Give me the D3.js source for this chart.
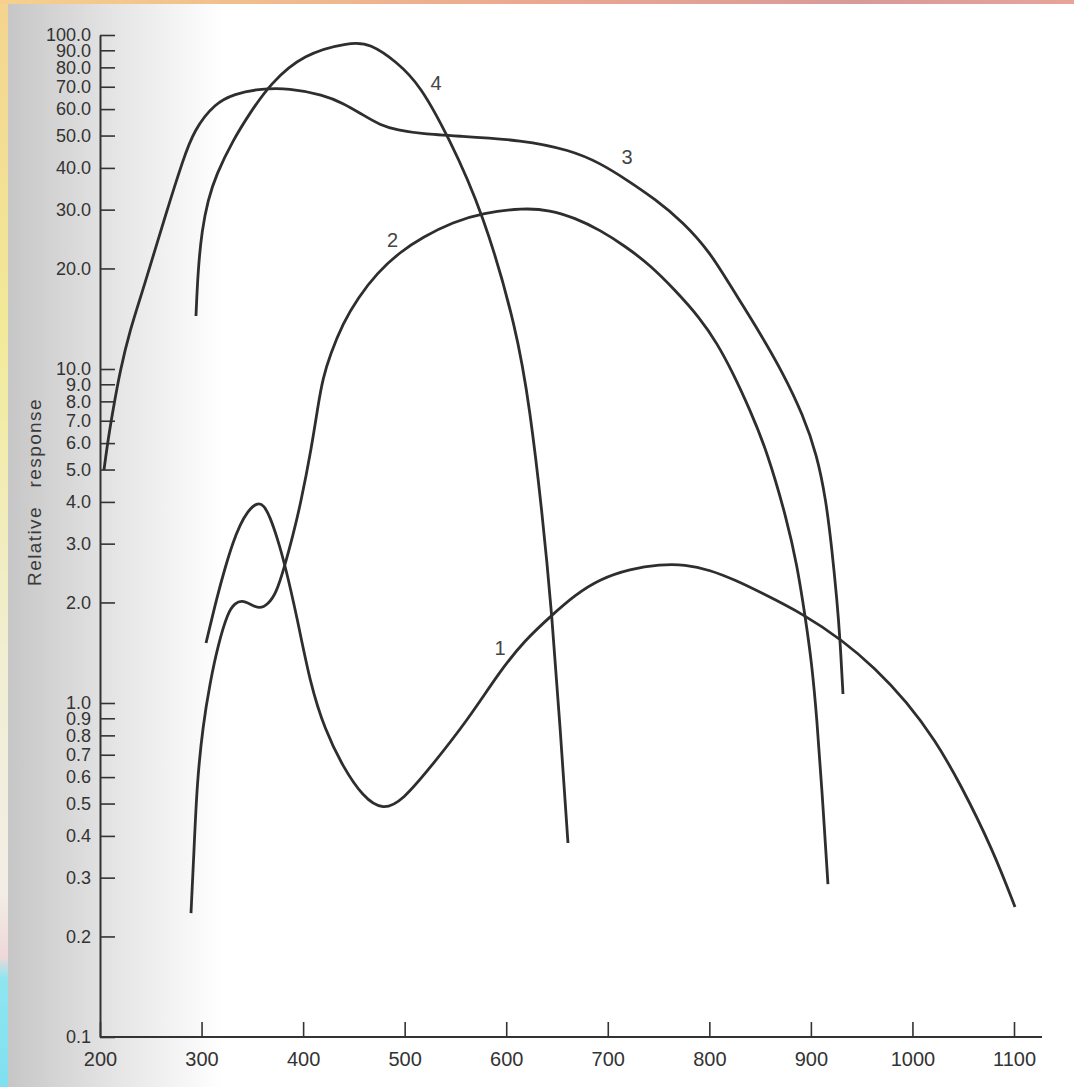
<!DOCTYPE html>
<html>
<head>
<meta charset="utf-8">
<title>Relative response</title>
<style>
  html, body { margin: 0; padding: 0; background: #fff; }
  svg { display: block; }
  .tick text { font-family: "Liberation Sans", Arial, sans-serif; fill: #333; }
</style>
</head>
<body>
<script src="https://cdn.jsdelivr.net/npm/d3@7"></script>
<script>
// tick values
var xTicks = [200, 300, 400, 500, 600, 700, 800, 900, 1000, 1100];
var yTicks = [0.1, 0.2, 0.3, 0.4, 0.5, 0.6, 0.7, 0.8, 0.9,
              1, 2, 3, 4, 5, 6, 7, 8, 9,
              10, 20, 30, 40, 50, 60, 70, 80, 90, 100];

// curve 1
var curve1X = [304.4, 315.2, 323.1, 331.0, 337.9, 344.7, 354.6, 361.5, 367.4, 374.3, 382.2, 394.0, 406.8,
               421.5, 439.3, 459.0, 478.7, 498.4, 524.9, 561.4, 593.9, 618.5, 645.1, 667.7, 692.3, 721.8,
               751.4, 776.0, 800.7, 825.3, 849.9, 894.2, 930.6, 963.1, 994.6, 1022.2, 1046.8, 1079.3, 1101.0];
var curve1Y = [1.512, 2.077, 2.536, 3.034, 3.411, 3.731, 3.990, 3.910, 3.605, 3.141, 2.590, 1.809, 1.148,
               0.830, 0.643, 0.523, 0.476, 0.5125, 0.639, 0.883, 1.247, 1.544, 1.834, 2.106, 2.351, 2.519,
               2.600, 2.600, 2.502, 2.335, 2.149, 1.834, 1.544, 1.273, 1.007, 0.775, 0.576, 0.363, 0.245];

// curve 2
var curve2X = [289.6, 292.6, 295.5, 301.4, 308.3, 316.2, 326.0, 332.9, 339.8, 347.7, 357.5, 365.4, 373.3,
               382.2, 390.0, 396.9, 408.8, 414.7, 419.6, 426.5, 439.3, 454.0, 472.8, 495.4, 518.0, 547.6,
               577.1, 616.5, 643.1, 667.7, 692.3, 716.9, 741.6, 766.2, 790.8, 807.5, 823.3, 840.0, 856.8,
               876.5, 886.3, 894.2, 901.1, 906.0, 910.9, 916.8];
var curve2Y = [0.235, 0.363, 0.576, 0.859, 1.148, 1.492, 1.873, 1.990, 2.030, 1.979, 1.910, 1.979, 2.120,
               2.590, 3.184, 3.863, 5.92, 7.80, 9.40, 11.01, 13.73, 16.32, 19.39, 22.40, 24.85, 27.55,
               29.32, 30.34, 29.92, 28.32, 26.08, 23.35, 20.48, 17.24, 14.21, 11.96, 9.73, 7.54, 5.68,
               3.53, 2.59, 1.834, 1.30, 0.889, 0.549, 0.287];

// curve 3
var curve3X = [203.9, 207.9, 212.8, 219.7, 229.5, 242.3, 266.0, 281.7, 292.6, 313.2, 332.9, 354.6,
               387.1, 419.6, 439.3, 459.0, 475.7, 492.4, 518.0, 551.5, 616.5, 662.8, 692.3, 718.9, 746.5,
               774.1, 800.7, 823.3, 849.9, 872.5, 892.2, 906.0, 914.9, 920.8, 925.7, 928.7, 931.6];
var curve3Y = [4.985, 6.13, 7.54, 9.86, 13.09, 17.24, 29.92, 42.24, 51.95, 62.57, 66.59, 68.92,
               69.40, 66.13, 62.57, 57.61, 53.77, 51.95, 50.53, 49.84, 48.48, 45.26, 41.39, 36.81, 32.28,
               27.55, 22.40, 17.24, 12.82, 9.73, 7.29, 5.53, 4.05, 2.87, 2.03, 1.554, 1.064];

// curve 4
var curve4X = [294.5, 296.5, 300.4, 306.3, 314.2, 331.0, 347.7, 367.4, 399.9, 446.2, 465.9, 492.4, 515.1,
               542.7, 577.1, 610.6, 623.4, 635.2, 645.1, 652.9, 660.8];
var curve4Y = [14.41, 19.79, 26.08, 32.06, 38.09, 48.48, 58.43, 71.33, 87.73, 95.2, 94.4, 83.0, 70.84,
               49.84, 29.5, 13.09, 7.54, 3.78, 1.834, 0.859, 0.381];

// curve labels
var curveNames = ["1", "2", "3", "4"];
var labelX = [594, 488, 719, 531];
var labelY = [1.46, 24.3, 43.1, 71.8];

var W = 1074, H = 1087;

var svg = d3.select("body").append("svg")
  .attr("width", W)
  .attr("height", H);

// scanned page look: grey shadow on the left, coloured edges
var defs = svg.append("defs");
var shade = defs.append("linearGradient").attr("id", "shade")
  .attr("x1", "0").attr("x2", "1").attr("y1", "0").attr("y2", "0");
shade.append("stop").attr("offset", "0").attr("stop-color", "#c6c6c6");
shade.append("stop").attr("offset", "0.45").attr("stop-color", "#e2e2e2");
shade.append("stop").attr("offset", "1").attr("stop-color", "#ffffff");

var side = defs.append("linearGradient").attr("id", "side")
  .attr("x1", "0").attr("x2", "0").attr("y1", "0").attr("y2", "1");
side.append("stop").attr("offset", "0").attr("stop-color", "#f4d48e");
side.append("stop").attr("offset", "0.3").attr("stop-color", "#f2ea98");
side.append("stop").attr("offset", "0.6").attr("stop-color", "#f1eed2");
side.append("stop").attr("offset", "0.82").attr("stop-color", "#f2eee6");
side.append("stop").attr("offset", "0.88").attr("stop-color", "#f0d8d8");
side.append("stop").attr("offset", "0.9").attr("stop-color", "#8fe6f0");
side.append("stop").attr("offset", "1").attr("stop-color", "#7fe0f0");

var topEdge = defs.append("linearGradient").attr("id", "topEdge")
  .attr("x1", "0").attr("x2", "1").attr("y1", "0").attr("y2", "0");
topEdge.append("stop").attr("offset", "0").attr("stop-color", "#f6d08c");
topEdge.append("stop").attr("offset", "0.5").attr("stop-color", "#eaa890");
topEdge.append("stop").attr("offset", "0.8").attr("stop-color", "#d89a98");
topEdge.append("stop").attr("offset", "1").attr("stop-color", "#e6a49a");

svg.append("rect").attr("x", 7).attr("y", 0).attr("width", 215).attr("height", H)
  .attr("fill", "url(#shade)");
svg.append("rect").attr("x", 0).attr("y", 0).attr("width", 8).attr("height", H)
  .attr("fill", "url(#side)");
svg.append("rect").attr("x", 0).attr("y", 0).attr("width", W).attr("height", 4)
  .attr("fill", "url(#topEdge)");

// scales
var x = d3.scaleLinear().domain([200, 1100]).range([100, 1014]);
var y = d3.scaleLog().domain([0.1, 100]).range([1037, 35]);

// y axis, ticks pointing right
var yAxis = svg.append("g")
  .attr("transform", "translate(" + x(200) + ",0)")
  .call(d3.axisLeft(y)
    .tickValues(yTicks)
    .tickFormat(d3.format(".1f"))
    .tickSizeInner(-15)
    .tickSizeOuter(0)
    .tickPadding(9));
yAxis.selectAll("text").style("font-size", "18px");

// x axis, ticks pointing up
var xAxis = svg.append("g")
  .attr("transform", "translate(0," + y(0.1) + ")")
  .call(d3.axisBottom(x)
    .tickValues(xTicks)
    .tickFormat(d3.format("d"))
    .tickSizeInner(-15)
    .tickSizeOuter(0)
    .tickPadding(15));
xAxis.selectAll("text").style("font-size", "20px");
xAxis.select(".domain").attr("d", "M" + x(200) + ",0H1042");

svg.selectAll(".domain").attr("stroke", "#333").attr("stroke-width", 2);
svg.selectAll(".tick line").attr("stroke", "#333").attr("stroke-width", 1.6);

// y axis title
svg.append("text")
  .attr("transform", "translate(41,492) rotate(-90)")
  .attr("text-anchor", "middle")
  .style("font-family", "Liberation Sans, Arial, sans-serif")
  .style("font-size", "19px")
  .style("letter-spacing", "1.4px")
  .style("word-spacing", "12px")
  .attr("fill", "#3a3a3a")
  .text("Relative response");

// curves
var line = d3.line()
  .x(function(d) { return x(d[0]); })
  .y(function(d) { return y(d[1]); })
  .curve(d3.curveBasis);

var curves = [
  d3.zip(curve1X, curve1Y),
  d3.zip(curve2X, curve2Y),
  d3.zip(curve3X, curve3Y),
  d3.zip(curve4X, curve4Y)
];

svg.append("g").selectAll("path")
  .data(curves)
  .enter().append("path")
  .attr("d", line)
  .attr("fill", "none")
  .attr("stroke", "#2e2e2e")
  .attr("stroke-width", 2.8)
  .attr("stroke-linejoin", "round");

// curve numbers
svg.append("g").selectAll("text")
  .data(curveNames)
  .enter().append("text")
  .attr("x", function(d, i) { return x(labelX[i]); })
  .attr("y", function(d, i) { return y(labelY[i]); })
  .attr("dy", "0.36em")
  .attr("text-anchor", "middle")
  .style("font-family", "Liberation Sans, Arial, sans-serif")
  .style("font-size", "20px")
  .attr("fill", "#444")
  .text(function(d) { return d; });
</script>
</body>
</html>
